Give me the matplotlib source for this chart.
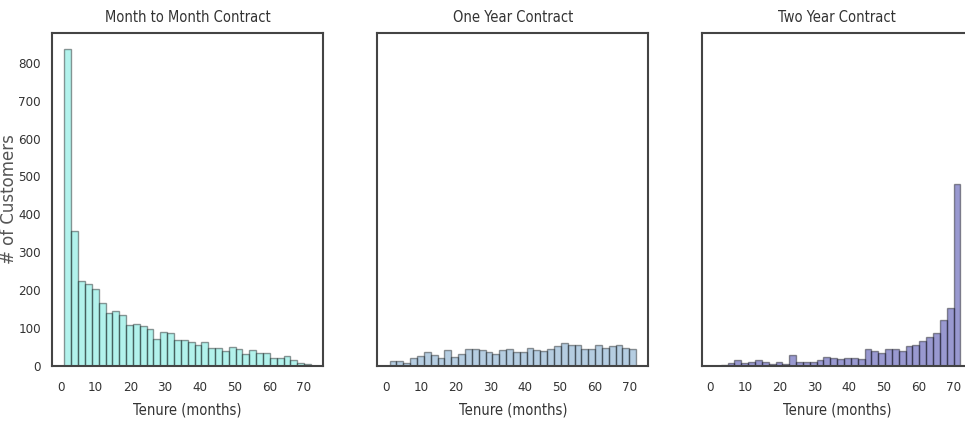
"""
Tenure distribution by contract type (three histograms, shared y axis).
Saves out.png
"""

import numpy as np
import matplotlib
matplotlib.use('Agg')
import matplotlib.pyplot as plt

# ── Data (counts per bin, 36 bins over tenure 1..72) ──────────────────────────
TENURE_MIN, TENURE_MAX, N_BINS = 1, 72, 36

month_to_month = [837, 356, 224, 216, 203, 167, 139, 146, 134, 108, 111, 106,
                  97, 72, 89, 86, 68, 68, 62, 55, 62, 48, 46, 40,
                  49, 44, 32, 42, 35, 33, 20, 20, 25, 16, 7, 4]
one_year = [12, 12, 8, 20, 25, 36, 29, 20, 41, 24, 32, 44,
            44, 41, 36, 31, 41, 44, 38, 38, 47, 42, 40, 44,
            52, 60, 56, 56, 44, 44, 56, 48, 52, 55, 47, 44]
two_year = [0, 3, 8, 16, 8, 11, 15, 10, 6, 11, 6, 29,
            11, 11, 11, 15, 23, 22, 19, 20, 22, 19, 45, 40,
            33, 45, 45, 40, 53, 56, 65, 76, 86, 120, 153, 480]

titles = ['Month to Month Contract', 'One Year Contract', 'Two Year Contract']
colors = ['turquoise', 'steelblue', 'darkblue']
series = [month_to_month, one_year, two_year]

# ── Style ─────────────────────────────────────────────────────────────────────
plt.rcParams['font.family'] = ['DejaVu Sans']
plt.rcParams['font.stretch'] = 'condensed'
TEXT = '#333333'

edges = np.linspace(TENURE_MIN, TENURE_MAX, N_BINS + 1)
centers = (edges[:-1] + edges[1:]) / 2

fig = plt.figure(figsize=(9.65, 4.23), dpi=100)
lefts = [0.054, 0.391, 0.727]
axes = []
for left in lefts:
    ax = fig.add_axes([left, 0.135, 0.281, 0.787],
                      sharey=axes[0] if axes else None)
    axes.append(ax)

for ax, counts, title, color in zip(axes, series, titles, colors):
    ax.hist(centers, bins=edges, weights=counts, color=color,
            edgecolor='black', alpha=0.4, linewidth=1.0)
    ax.set_title(title, fontsize=10.5, color=TEXT, pad=8)
    ax.set_xlabel('Tenure (months)', fontsize=10.5, color=TEXT, labelpad=6)
    ax.set_xticks(np.arange(0, 71, 10))
    ax.tick_params(length=0, labelsize=9.5, labelcolor=TEXT, pad=11)
    for sp in ax.spines.values():
        sp.set_color('#444444')
        sp.set_linewidth(1.5)

# y label: normal width, sits close to the left edge
axes[0].set_ylabel('# of Customers', fontsize=12, color='#555555',
                   fontstretch='normal')
axes[0].yaxis.set_label_coords(-0.125, 0.5)
axes[0].set_yticks(np.arange(0, 801, 100))
axes[0].tick_params(axis='y', pad=8)
for ax in axes[1:]:
    ax.tick_params(labelleft=False)

fig.savefig('out.png', dpi=100)
